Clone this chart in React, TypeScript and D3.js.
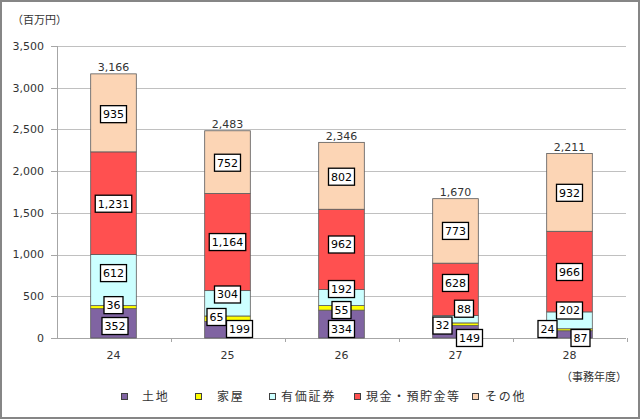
import React from "react";
import * as d3 from "d3";

const years = ["24", "25", "26", "27", "28"];
const seriesNames = ["土地", "家屋", "有価証券", "現金・預貯金等", "その他"];
const land = [352, 199, 334, 149, 87];
const house = [36, 65, 55, 32, 24];
const securities = [612, 304, 192, 88, 202];
const cash = [1231, 1164, 962, 628, 966];
const other = [935, 752, 802, 773, 932];
const totals = [3166, 2483, 2346, 1670, 2211];
const yTicks = [0, 500, 1000, 1500, 2000, 2500, 3000, 3500];

const colors = ["#8064A2", "#FFFF00", "#CCFFFF", "#FF5050", "#FCD5B5"];

// label nudges (px) [series][year] to mimic the reference label placement
const nudgeDx = [
  [1.5, 12, 0, 14, 11],
  [0, -11, 0, -13, -22],
  [0, 0, 0, 8.5, 0],
  [0, 0, 0, 0, 0],
  [0, 0, 0, 0, 0],
];
const nudgeDy = [
  [2.7, -0.7, 4.9, 6.2, 3.6],
  [-2, -1.7, 2.2, 1.3, -0.7],
  [-7, -8.8, -8.5, -10.5, -9.8],
  [0.5, 0, -4.9, -6.4, 0.4],
  [1.3, 0.6, 0.9, 0, 0.4],
];

const W = 640;
const H = 419;
const fmt = d3.format(",");
const numFont = "'DejaVu Sans', Verdana, sans-serif";
const cjkFont = "'Noto Sans CJK JP', sans-serif";

function textW(s: string) {
  let w = 0;
  for (const ch of s) w += ch === "," ? 3.5 : 7;
  return w;
}

export default function App() {
  const series = [land, house, securities, cash, other];
  const x = d3.scaleBand<string>().domain(years).range([56.5, 626.5]);
  const y = d3.scaleLinear().domain([0, 3500]).range([338, 46]);
  const barW = x.bandwidth() * 0.4;

  const stackData = years.map((yr, i) => {
    const o: any = { year: yr };
    seriesNames.forEach((n, s) => (o[n] = series[s][i]));
    return o;
  });
  const stacked = d3.stack<any>().keys(seriesNames)(stackData);

  const legendX = [121, 195, 269, 354, 472];
  const legendTextOff = [21, 22, 12, 12, 13];
  const legendTextLen = [0, 0, 0, 93, 0];

  return (
    <svg
      width={W}
      height={H}
      style={{ position: "absolute", left: 0, top: 0, background: "#fff" }}
    >
      <rect x={1} y={1} width={W - 2} height={H - 2} fill="#fff" stroke="#868686" strokeWidth={2} />
      <text x={12} y={24} fontFamily={cjkFont} fontSize={11} fill="#333">
        （百万円）
      </text>
      {/* gridlines */}
      {yTicks.map((t) => (
        <g key={t}>
          {t > 0 && (
            <line x1={57} x2={626} y1={Math.round(y(t)) + 0.5} y2={Math.round(y(t)) + 0.5} stroke="#c0c0c0" strokeWidth={1} />
          )}
          <line x1={51} x2={57} y1={Math.round(y(t)) + 0.5} y2={Math.round(y(t)) + 0.5} stroke="#a6a6a6" />
          <text x={44} y={y(t)} dy="0.35em" textAnchor="end" fontFamily={numFont} fontSize={11} fill="#333">
            {fmt(t)}
          </text>
        </g>
      ))}
      {/* axes */}
      <line x1={57.5} x2={57.5} y1={46} y2={338} stroke="#a6a6a6" />
      <line x1={57} x2={626} y1={338.5} y2={338.5} stroke="#a6a6a6" />
      {years.map((yr) => (
        <line key={"t" + yr} x1={Math.round(x(yr)! + x.bandwidth()) + 0.5} x2={Math.round(x(yr)! + x.bandwidth()) + 0.5} y1={338} y2={342} stroke="#a6a6a6" />
      ))}
      {years.map((yr) => (
        <text key={"x" + yr} x={x(yr)! + x.bandwidth() / 2} y={359} textAnchor="middle" fontFamily={numFont} fontSize={11} fill="#333">
          {yr}
        </text>
      ))}
      <text x={561} y={381} fontFamily={cjkFont} fontSize={11} fill="#333">
        （事務年度）
      </text>
      {/* bars */}
      {stacked.map((layer, s) => (
        <g key={seriesNames[s]}>
          {layer.map((d, i) => {
            const cx = x(years[i])! + x.bandwidth() / 2;
            return (
              <rect
                key={i}
                x={cx - barW / 2}
                y={y(d[1])}
                width={barW}
                height={y(d[0]) - y(d[1])}
                fill={colors[s]}
                stroke="#595959"
                strokeWidth={0.8}
              />
            );
          })}
        </g>
      ))}
      {/* totals */}
      {years.map((yr, i) => {
        const cx = x(yr)! + x.bandwidth() / 2;
        const top = stacked[stacked.length - 1][i][1];
        return (
          <text key={"tot" + yr} x={cx} y={y(top) - 2.5} textAnchor="middle" fontFamily={numFont} fontSize={11} fill="#333">
            {fmt(totals[i])}
          </text>
        );
      })}
      {/* value labels */}
      {stacked.map((layer, s) =>
        layer.map((d, i) => {
          const cx = x(years[i])! + x.bandwidth() / 2 + nudgeDx[s][i];
          const cy = (y(d[0]) + y(d[1])) / 2 + nudgeDy[s][i];
          const label = fmt(series[s][i]);
          const bw = textW(label) + 5;
          const bh = 17;
          return (
            <g key={"l" + s + "-" + i}>
              <rect x={cx - bw / 2} y={cy - bh / 2} width={bw} height={bh} fill="#fff" stroke="#000" strokeWidth={1.3} />
              <text x={cx} y={cy} dy="0.36em" textAnchor="middle" fontFamily={numFont} fontSize={11} fill="#000">
                {label}
              </text>
            </g>
          );
        })
      )}
      {/* legend */}
      {seriesNames.map((n, s) => (
        <g key={"lg" + n}>
          <rect x={legendX[s] + 0.5} y={393.5} width={6} height={6} fill={colors[s]} stroke="#404040" strokeWidth={1} />
          {legendTextLen[s] > 0 ? (
            <text
              x={legendX[s] + legendTextOff[s]}
              y={397}
              dy="0.36em"
              fontFamily={cjkFont}
              fontSize={12}
              textLength={legendTextLen[s]}
              lengthAdjust="spacing"
              fill="#333"
            >
              {n}
            </text>
          ) : (
            <text
              x={legendX[s] + legendTextOff[s]}
              y={397}
              dy="0.36em"
              fontFamily={cjkFont}
              fontSize={12}
              letterSpacing={1.8}
              fill="#333"
            >
              {n}
            </text>
          )}
        </g>
      ))}
    </svg>
  );
}
